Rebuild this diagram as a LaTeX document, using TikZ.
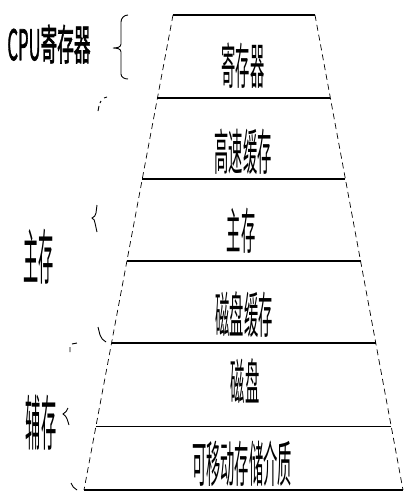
\documentclass[tikz,border=0pt]{standalone}
\usepackage{fontspec}
\newfontfamily\cjk{Noto Sans CJK SC}
\newfontfamily\cjkbold[FakeBold=2]{Noto Sans CJK SC}
\usetikzlibrary{calc}

\begin{document}
\begin{tikzpicture}[
    x=1pt, y=-1pt,
    level/.style={font=\cjk\fontsize{34}{34}\selectfont, xscale=0.42, yscale=1.45, inner sep=0pt},
    group/.style={font=\cjk\fontsize{40}{40}\selectfont, xscale=0.38, yscale=1.5, inner sep=0pt},
    side/.style={line width=0.7pt, dash pattern=on 6pt off 4pt},
    sepline/.style={line width=1.8pt},
    thinline/.style={line width=0.9pt},
    bracepart/.style={line width=0.9pt}
]
\useasboundingbox (0,0) rectangle (407,501);

% corners of the pyramid
\coordinate (TL) at (173,15);
\coordinate (TR) at (315,15);
\coordinate (BL) at (84,490);
\coordinate (BR) at (403,490);

\draw[side] (TL) -- (BL);
\draw[side] (TR) -- (BR);

% layer borders
\draw[sepline] (TL) -- (TR);
\draw[sepline] ($(TL)!0.1747!(BL)$) -- ($(TR)!0.1747!(BR)$);
\draw[sepline] ($(TL)!0.3453!(BL)$) -- ($(TR)!0.3453!(BR)$);
\draw[sepline] ($(TL)!0.5179!(BL)$) -- ($(TR)!0.5179!(BR)$);
\draw[sepline] ($(TL)!0.6905!(BL)$) -- ($(TR)!0.6905!(BR)$);
\draw[thinline] ($(TL)!0.8653!(BL)$) -- ($(TR)!0.8653!(BR)$);
\draw[sepline] (BL) -- (BR);

% layer names
\node[level] (reg) at (243,66) {寄存器};
\node[level] (cache) at (243,152) {高速缓存};
\node[level] (mem) at (241,231) {主存};
\node[level] (dcache) at (244,315) {磁盘缓存};
\node[level] (disk) at (245,381) {磁盘};
\node[level] (media) at (242,464) {可移动存储介质};

% group labels
\node[font=\cjkbold\fontsize{30}{30}\selectfont, xscale=0.555, yscale=1.4, inner sep=0pt] (cpu) at (49,44) {CPU寄存器};
\node[group] (main) at (39,257) {主存};
\node[group] (aux) at (41,423) {辅存};

% braces
\draw[bracepart] (128,15) to[out=180,in=90] (121,22) -- (121,44) to[out=-90,in=0] (113,48)
    to[out=0,in=90] (121,52) -- (121,74) to[out=-90,in=180] (128,79);

\draw[bracepart] (107,97) -- (104,98) (101,101) -- (100,103) (99,106) -- (98,111);
\draw[bracepart] (97,205) -- (96,213) to[out=-100,in=20] (92,218) to[out=-20,in=100] (95,223) -- (97,232);
\draw[bracepart] (98,327) -- (100,335) to[out=-70,in=150] (106,342);

\draw[bracepart] (77,343) -- (72,344) (70,347) -- (70,352);
\draw[bracepart] (68,408) to[out=-110,in=30] (63,414) to[out=-30,in=110] (69,425);
\draw[bracepart] (71,483) to[out=-70,in=150] (77,490);
\end{tikzpicture}
\end{document}
